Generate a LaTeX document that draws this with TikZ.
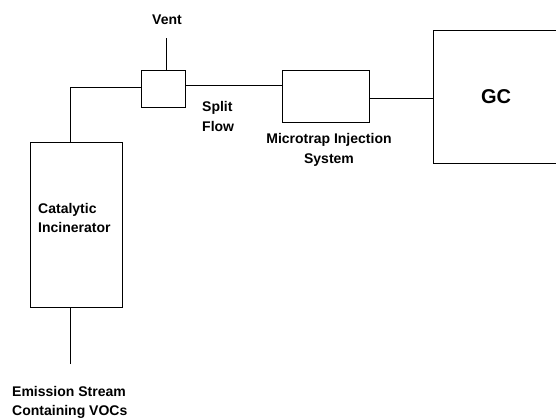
\documentclass[tikz,border=0pt]{standalone}
\usepackage{fontspec}
\setmainfont{Liberation Sans}
\begin{document}
\begin{tikzpicture}[x=1pt,y=-1pt,
  box/.style={draw,line width=1pt,rectangle,inner sep=0pt},
  lbl/.style={font=\fontsize{14}{19.5}\selectfont\bfseries,inner sep=0pt},
  pipe/.style={line width=1pt}]
\useasboundingbox (0,0) rectangle (556,418);
\node[box,minimum width=44pt,minimum height=37pt] (split) at (163,88.5) {};
\node[box,minimum width=87pt,minimum height=52pt] (micro) at (325.5,96) {};
\node[box,minimum width=92pt,minimum height=165pt] (cat) at (76,224.5) {};
\node[box,minimum width=126pt,minimum height=133pt,font=\fontsize{20}{24}\selectfont\bfseries] (gc) at (496,96.5) {GC};
\node[lbl] (vent) at (167,20) {Vent};
\node[lbl,anchor=west,align=left] (catl) at (38,218) {Catalytic\\Incinerator};
\node[lbl,anchor=west,align=left] (splitl) at (202,116.5) {Split\\Flow};
\node[lbl,align=center] (microl) at (329,150) {Microtrap Injection\\System};
\node[lbl,anchor=west,align=left] (emis) at (12,402.5) {Emission Stream\\Containing VOCs};
\coordinate (venttop) at (166,38);
\coordinate (catin) at (70,142);
\coordinate (catout) at (70,307);
\coordinate (feed) at (70,364);
\draw[pipe] (split.north -| venttop) -- (venttop);
\draw[pipe] ([yshift=1.5pt]split.west) -| (catin);
\draw[pipe] (feed) -- (catout);
\draw[pipe] ([yshift=3.5pt]split.east) -- ([yshift=3.5pt]split.east -| micro.west);
\draw[pipe] ([yshift=-2pt]micro.east) -- ([yshift=-2pt]micro.east -| gc.west);
\end{tikzpicture}
\end{document}
